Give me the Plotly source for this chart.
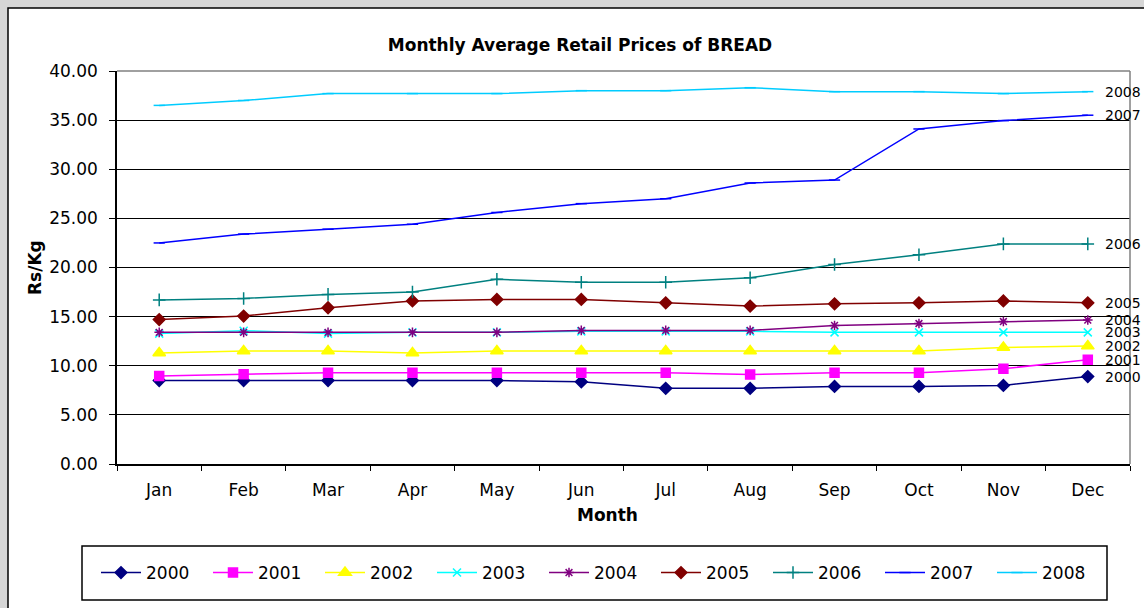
import plotly.graph_objects as go

months = ["Jan", "Feb", "Mar", "Apr", "May", "Jun", "Jul", "Aug", "Sep", "Oct", "Nov", "Dec"]
years = ["2000", "2001", "2002", "2003", "2004", "2005", "2006", "2007", "2008"]

p2000 = [8.5, 8.5, 8.5, 8.5, 8.5, 8.36, 7.7, 7.7, 7.9, 7.9, 8.0, 8.9]
p2001 = [8.96, 9.14, 9.3, 9.3, 9.3, 9.3, 9.3, 9.1, 9.3, 9.3, 9.7, 10.6]
p2002 = [11.3, 11.5, 11.5, 11.3, 11.5, 11.5, 11.5, 11.5, 11.5, 11.5, 11.85, 12.0]
p2003 = [13.27, 13.57, 13.27, 13.4, 13.4, 13.5, 13.5, 13.5, 13.4, 13.4, 13.4, 13.4]
p2004 = [13.4, 13.4, 13.4, 13.4, 13.4, 13.6, 13.6, 13.6, 14.1, 14.3, 14.5, 14.65]
p2005 = [14.7, 15.06, 15.9, 16.6, 16.75, 16.75, 16.4, 16.07, 16.3, 16.4, 16.6, 16.4]
p2006 = [16.7, 16.85, 17.26, 17.5, 18.8, 18.5, 18.5, 18.95, 20.3, 21.3, 22.4, 22.4]
p2007 = [22.5, 23.4, 23.9, 24.4, 25.6, 26.5, 27.0, 28.6, 28.9, 34.1, 34.95, 35.5]
p2008 = [36.5, 37.0, 37.7, 37.7, 37.7, 38.0, 38.0, 38.3, 37.9, 37.9, 37.7, 37.9]

series = [p2000, p2001, p2002, p2003, p2004, p2005, p2006, p2007, p2008]
colors = ["#000080", "#FF00FF", "#FFFF00", "#00FFFF", "#800080", "#800000", "#008080", "#0000FF", "#00CCFF"]
symbols = ["diamond", "square", "triangle-up", "x-thin", "asterisk", "diamond", "cross-thin", "line-ew", "line-ew"]
msizes = [9, 9, 11, 8, 8, 9, 9, 8, 8]

FONT = "DejaVu Sans"

fig = go.Figure()
for name, vals, col, sym, ms in zip(years, series, colors, symbols, msizes):
    fig.add_trace(go.Scatter(
        x=months, y=vals, name=name, mode="lines+markers",
        line=dict(color=col, width=1.5),
        marker=dict(symbol=sym, size=ms, color=col, line=dict(color=col, width=1.5)),
        cliponaxis=False,
    ))

# right-hand data labels at the last point
for name, vals in zip(years, series):
    fig.add_annotation(x=months[-1], y=vals[-1], text=name, showarrow=False,
                       xanchor="left", yanchor="middle", xshift=15,
                       font=dict(family=FONT, size=14, color="black"))

L, R, T, B = 117, 14, 71, 144
W, H = 1144, 608
pw, ph = W - L - R, H - T - B

def px(x):
    return (x - L) / pw

def py(y):
    return (H - B - y) / ph

shapes = [
    # white chart area with black border
    dict(type="rect", xref="paper", yref="paper", x0=px(8), x1=px(1160), y0=py(630), y1=py(8),
         fillcolor="white", line=dict(color="black", width=1.5), layer="below"),
    # plot-area frame top and right (grey)
    dict(type="line", xref="paper", yref="paper", x0=0, x1=1, y0=1, y1=1,
         line=dict(color="#808080", width=1.5), layer="above"),
    dict(type="line", xref="paper", yref="paper", x0=1, x1=1, y0=0, y1=1,
         line=dict(color="#808080", width=1.5), layer="above"),
    # legend box
    dict(type="rect", xref="paper", yref="paper", x0=px(82), x1=px(1107), y0=py(600), y1=py(546),
         fillcolor="white", line=dict(color="black", width=1.5), layer="below"),
]

fig.update_layout(
    width=W, height=H,
    margin=dict(l=L, r=R, t=T, b=B),
    paper_bgcolor="#d6d6d6",
    plot_bgcolor="white",
    font=dict(family=FONT, size=17, color="black"),
    title=dict(text="<b>Monthly Average Retail Prices of BREAD</b>", x=580 / W, xanchor="center",
               y=1 - 45 / H, yanchor="middle", font=dict(family=FONT, size=17, color="black")),
    shapes=shapes,
    showlegend=True,
    legend=dict(orientation="h", x=px(96), xanchor="left", y=py(573), yanchor="middle",
                bgcolor="rgba(0,0,0,0)", borderwidth=0, font=dict(family=FONT, size=17),
                entrywidth=57, entrywidthmode="pixels", itemwidth=40),
    xaxis=dict(type="category", categoryorder="array", categoryarray=months,
               range=[-0.5, 11.5], tickson="boundaries", ticks="outside", ticklen=5,
               tickcolor="black", showline=True, linecolor="black", linewidth=1.5,
               showgrid=False, zeroline=False, fixedrange=True,
               tickfont=dict(family=FONT, size=17), ticklabelstandoff=10),
    yaxis=dict(range=[0, 40], dtick=5, tickformat=".2f", ticks="outside", ticklen=6,
               tickcolor="black", showline=True, linecolor="black", linewidth=1.5,
               showgrid=True, gridcolor="black", gridwidth=1.2, zeroline=False,
               tickfont=dict(family=FONT, size=17), ticklabelstandoff=8),
    annotations=list(fig.layout.annotations) + [
        dict(text="<b>Rs/Kg</b>", xref="paper", yref="paper", x=px(35), y=py(268),
             showarrow=False, textangle=-90, xanchor="center", yanchor="middle",
             font=dict(family=FONT, size=17, color="black")),
        dict(text="<b>Month</b>", xref="paper", yref="paper", x=px(607), y=py(515),
             showarrow=False, xanchor="center", yanchor="middle",
             font=dict(family=FONT, size=17, color="black")),
    ],
)

fig.write_html("out.html", config={"displayModeBar": False},
               post_script="document.body.style.margin='0';document.body.style.overflow='hidden';")
